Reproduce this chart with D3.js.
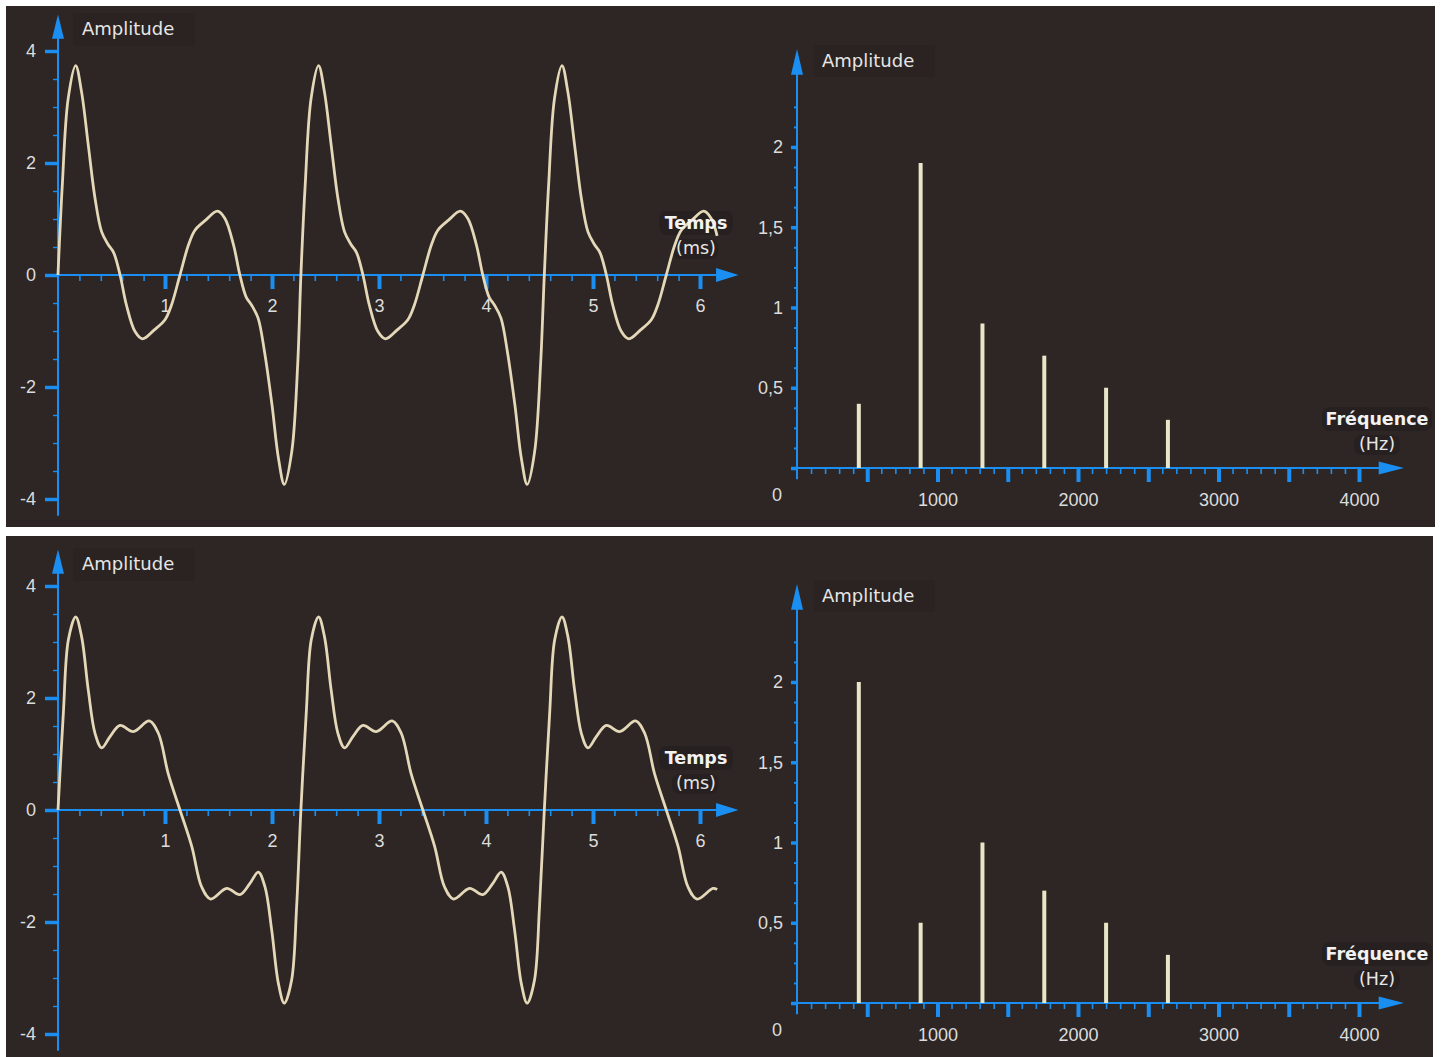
<!DOCTYPE html>
<html>
<head>
<meta charset="utf-8">
<script src="https://cdn.jsdelivr.net/npm/d3@7"></script>
<style>
  html, body { margin: 0; padding: 0; background: #ffffff; }
  svg { display: block; }
</style>
</head>
<body>
<svg id="chart" width="1444" height="1057"></svg>
<script>
// ---------------- DATA ----------------
// Time signals: [time (ms), amplitude]
const signalTop = [
  [0,0],[0.04,1.6],[0.095,3.15],[0.165,3.74],[0.22,3.27],[0.283,2.32],[0.346,1.37],[0.408,0.77],[0.47,0.54],[0.52,0.4],[0.58,0],[0.64,-0.54],[0.72,-1.01],[0.79,-1.14],[0.9,-0.98],[1.0,-0.8],[1.06,-0.54],[1.14,0],[1.22,0.54],[1.28,0.8],[1.38,0.98],[1.49,1.14],[1.56,1.01],[1.64,0.54],[1.7,0],[1.76,-0.4],[1.81,-0.54],[1.87,-0.77],[1.93,-1.37],[2.0,-2.32],[2.06,-3.27],[2.115,-3.74],[2.185,-3.15],[2.24,-1.6],
  [2.27,0],[2.31,1.6],[2.365,3.15],[2.435,3.74],[2.49,3.27],[2.553,2.32],[2.616,1.37],[2.678,0.77],[2.74,0.54],[2.79,0.4],[2.85,0],[2.91,-0.54],[2.99,-1.01],[3.06,-1.14],[3.17,-0.98],[3.27,-0.8],[3.33,-0.54],[3.41,0],[3.49,0.54],[3.55,0.8],[3.65,0.98],[3.76,1.14],[3.83,1.01],[3.91,0.54],[3.97,0],[4.03,-0.4],[4.08,-0.54],[4.14,-0.77],[4.2,-1.37],[4.27,-2.32],[4.33,-3.27],[4.385,-3.74],[4.455,-3.15],[4.51,-1.6],
  [4.545,0],[4.585,1.6],[4.64,3.15],[4.71,3.74],[4.765,3.27],[4.828,2.32],[4.891,1.37],[4.953,0.77],[5.015,0.54],[5.065,0.4],[5.125,0],[5.185,-0.54],[5.265,-1.01],[5.335,-1.14],[5.445,-0.98],[5.545,-0.8],[5.605,-0.54],[5.685,0],[5.765,0.54],[5.825,0.8],[5.925,0.98],[6.035,1.14],[6.105,1.01],[6.16,0.7]
];
const signalBottom = [
  [0,0],[0.05,1.73],[0.097,3.04],[0.165,3.45],[0.22,3.1],[0.283,2.14],[0.346,1.37],[0.408,1.11],[0.486,1.31],[0.58,1.51],[0.704,1.4],[0.853,1.59],[0.938,1.37],[1.03,0.65],[1.14,0],[1.25,-0.65],[1.342,-1.37],[1.427,-1.59],[1.576,-1.4],[1.7,-1.51],[1.794,-1.31],[1.872,-1.11],[1.934,-1.37],[1.997,-2.14],[2.06,-3.1],[2.115,-3.45],[2.183,-3.04],[2.23,-1.73],
  [2.27,0],[2.32,1.73],[2.367,3.04],[2.435,3.45],[2.49,3.1],[2.553,2.14],[2.616,1.37],[2.678,1.11],[2.756,1.31],[2.85,1.51],[2.974,1.4],[3.123,1.59],[3.208,1.37],[3.3,0.65],[3.41,0],[3.52,-0.65],[3.612,-1.37],[3.697,-1.59],[3.846,-1.4],[3.97,-1.51],[4.064,-1.31],[4.142,-1.11],[4.204,-1.37],[4.267,-2.14],[4.33,-3.1],[4.385,-3.45],[4.453,-3.04],[4.5,-1.73],
  [4.545,0],[4.595,1.73],[4.642,3.04],[4.71,3.45],[4.765,3.1],[4.828,2.14],[4.891,1.37],[4.953,1.11],[5.031,1.31],[5.125,1.51],[5.249,1.4],[5.398,1.59],[5.483,1.37],[5.575,0.65],[5.685,0],[5.795,-0.65],[5.887,-1.37],[5.972,-1.59],[6.121,-1.4],[6.16,-1.42]
];
// Spectrum
const harmonicsHz = [440, 880, 1320, 1760, 2200, 2640];
const spectrumTop = [0.4, 1.9, 0.9, 0.7, 0.5, 0.3];
const spectrumBottom = [2.0, 0.5, 1.0, 0.7, 0.5, 0.3];
// Ticks
const timeTickLabels = [1, 2, 3, 4, 5, 6];
const timeAmpTicks = [-4, -2, 0, 2, 4];
const freqTickLabels = [1000, 2000, 3000, 4000];
const freqMajorTicks = [500, 1000, 1500, 2000, 2500, 3000, 3500, 4000];
const specAmpTicks = [0.5, 1, 1.5, 2];
const labels = { amp: "Amplitude", time: "Temps", timeUnit: "(ms)", freq: "Fréquence", freqUnit: "(Hz)" };

// ---------------- STYLE ----------------
const BG = "#2d2624";
const BLUE = "#1b8ef2";
const CURVE = "#e4d8b8";
const BAR = "#e8e6c8";
const TXT = "#dcdcdc";
const LABEL_FONT = "DejaVu Sans, sans-serif";
const TICK_FONT = "Liberation Sans, Arial, sans-serif";

const svg = d3.select("#chart");
svg.append("rect").attr("width", 1444).attr("height", 1057).attr("fill", "#ffffff");

function fmtComma(d) { return String(d).replace(".", ","); }

function drawPanel(offsetY, rectTop, panelH, panelW, signal, spectrum) {
  svg.append("rect").attr("x", 6).attr("y", rectTop).attr("width", panelW).attr("height", panelH).attr("fill", BG);
  const g = svg.append("g").attr("transform", `translate(0,${offsetY})`);

  // ---------- Left: time chart ----------
  const xT = d3.scaleLinear().domain([0, 6]).range([58, 700]);
  const yT = d3.scaleLinear().domain([-4, 4]).range([269 + 224, 269 - 224]);
  const L = g.append("g");

  // label backdrops (behind curve)
  L.append("rect").attr("x", 73).attr("y", 7).attr("width", 122).attr("height", 33).attr("fill", "#2a2321");
  L.append("rect").attr("x", 659).attr("y", 205).attr("width", 74).attr("height", 24).attr("rx", 8).attr("fill", "#262020");
  L.append("rect").attr("x", 672).attr("y", 233).attr("width", 46).attr("height", 20).attr("rx", 8).attr("fill", "#262020");

  // minor x ticks
  const minorT = d3.range(1, 31).map(i => i / 5).filter(v => Math.abs(v - Math.round(v)) > 1e-6);
  L.append("g").attr("transform", `translate(0,${yT(0)})`)
    .call(d3.axisBottom(xT).tickValues(minorT).tickSize(6).tickFormat(""))
    .call(a => a.select(".domain").remove())
    .call(a => a.selectAll("line").attr("stroke", BLUE).attr("stroke-width", 1.6));
  // major x ticks
  L.append("g").attr("transform", `translate(0,${yT(0)})`)
    .call(d3.axisBottom(xT).tickValues(timeTickLabels).tickSize(14).tickPadding(10).tickFormat(d => String(d)))
    .call(a => a.select(".domain").remove())
    .call(a => a.selectAll("line").attr("stroke", BLUE).attr("stroke-width", 4))
    .call(a => a.selectAll("text").attr("fill", TXT).attr("font-family", TICK_FONT).attr("font-size", 18));
  // minor y ticks
  const minorA = d3.range(-8, 9).map(i => i / 2).filter(v => v % 2 !== 0);
  L.append("g").attr("transform", `translate(${xT(0)},0)`)
    .call(d3.axisLeft(yT).tickValues(minorA).tickSize(5).tickFormat(""))
    .call(a => a.select(".domain").remove())
    .call(a => a.selectAll("line").attr("stroke", BLUE).attr("stroke-width", 1.4));
  // major y ticks
  L.append("g").attr("transform", `translate(${xT(0)},0)`)
    .call(d3.axisLeft(yT).tickValues(timeAmpTicks).tickSize(13).tickPadding(9).tickFormat(d => String(d)))
    .call(a => a.select(".domain").remove())
    .call(a => a.selectAll("line").attr("stroke", BLUE).attr("stroke-width", 3.5))
    .call(a => a.selectAll("text").attr("fill", TXT).attr("font-family", TICK_FONT).attr("font-size", 18));

  // axis lines + arrows
  L.append("line").attr("x1", xT(0)).attr("x2", xT(6.2)).attr("y1", yT(0)).attr("y2", yT(0))
    .attr("stroke", BLUE).attr("stroke-width", 2);
  L.append("path").attr("d", `M${xT(6.15)},${yT(0) - 7} L${xT(6.36)},${yT(0)} L${xT(6.15)},${yT(0) + 7} Z`).attr("fill", BLUE);
  L.append("line").attr("x1", xT(0)).attr("x2", xT(0)).attr("y1", yT(-4.3)).attr("y2", yT(4.3))
    .attr("stroke", BLUE).attr("stroke-width", 2);
  L.append("path").attr("d", `M${xT(0) - 6},${yT(4.22)} L${xT(0)},${yT(4.65)} L${xT(0) + 6},${yT(4.22)} Z`).attr("fill", BLUE);

  // curve
  L.append("path").datum(signal)
    .attr("d", d3.line().x(d => xT(d[0])).y(d => yT(d[1])).curve(d3.curveCatmullRom.alpha(0.5)))
    .attr("fill", "none").attr("stroke", CURVE).attr("stroke-width", 2.8).attr("stroke-linejoin", "round");

  // labels
  L.append("text").attr("x", 82).attr("y", 29).text(labels.amp)
    .attr("fill", "#e6e6e6").attr("font-family", LABEL_FONT).attr("font-size", 18);
  L.append("text").attr("x", 696).attr("y", 223).attr("text-anchor", "middle").text(labels.time)
    .attr("fill", "#f2f2f2").attr("font-family", LABEL_FONT).attr("font-weight", "bold").attr("font-size", 17.5);
  L.append("text").attr("x", 696).attr("y", 248).attr("text-anchor", "middle").text(labels.timeUnit)
    .attr("fill", "#e6e6e6").attr("font-family", LABEL_FONT).attr("font-size", 17.5);

  // ---------- Right: spectrum ----------
  const xF = d3.scaleLinear().domain([0, 4000]).range([797, 1359]);
  const yF = d3.scaleLinear().domain([0, 2]).range([462, 141]);
  const R = g.append("g");

  const minorF = d3.range(1, 41).map(i => i * 100).filter(v => v % 500 !== 0);
  R.append("g").attr("transform", `translate(0,${yF(0)})`)
    .call(d3.axisBottom(xF).tickValues(minorF).tickSize(6).tickFormat(""))
    .call(a => a.select(".domain").remove())
    .call(a => a.selectAll("line").attr("stroke", BLUE).attr("stroke-width", 1.6));
  R.append("g").attr("transform", `translate(0,${yF(0)})`)
    .call(d3.axisBottom(xF).tickValues(freqMajorTicks).tickSize(14).tickFormat(""))
    .call(a => a.select(".domain").remove())
    .call(a => a.selectAll("line").attr("stroke", BLUE).attr("stroke-width", 4));
  R.append("g").attr("transform", `translate(0,${yF(0)})`)
    .call(d3.axisBottom(xF).tickValues(freqTickLabels).tickSize(0).tickPadding(25).tickFormat(d => String(d)))
    .call(a => a.select(".domain").remove())
    .call(a => a.selectAll("text").attr("fill", TXT).attr("font-family", TICK_FONT).attr("font-size", 18));

  const minorS = d3.range(1, 19).map(i => i * 0.125).filter(v => Math.abs(v * 2 - Math.round(v * 2)) > 1e-6);
  R.append("g").attr("transform", `translate(${xF(0)},0)`)
    .call(d3.axisLeft(yF).tickValues(minorS).tickSize(3).tickFormat(""))
    .call(a => a.select(".domain").remove())
    .call(a => a.selectAll("line").attr("stroke", BLUE).attr("stroke-width", 2));
  R.append("g").attr("transform", `translate(${xF(0)},0)`)
    .call(d3.axisLeft(yF).tickValues([0].concat(specAmpTicks)).tickSize(6).tickPadding(8)
      .tickFormat(d => d === 0 ? "" : fmtComma(d)))
    .call(a => a.select(".domain").remove())
    .call(a => a.selectAll("line").attr("stroke", BLUE).attr("stroke-width", 3.5))
    .call(a => a.selectAll("text").attr("fill", TXT).attr("font-family", TICK_FONT).attr("font-size", 18));
  R.append("text").attr("x", xF(0) - 20).attr("y", yF(0) + 33).attr("text-anchor", "middle").text("0")
    .attr("fill", TXT).attr("font-family", TICK_FONT).attr("font-size", 18);

  R.append("line").attr("x1", xF(0)).attr("x2", xF(4200)).attr("y1", yF(0)).attr("y2", yF(0))
    .attr("stroke", BLUE).attr("stroke-width", 2);
  R.append("path").attr("d", `M${xF(4140)},${yF(0) - 6.5} L${xF(4320)},${yF(0)} L${xF(4140)},${yF(0) + 6.5} Z`).attr("fill", BLUE);
  R.append("line").attr("x1", xF(0)).attr("x2", xF(0)).attr("y1", yF(-0.07)).attr("y2", yF(2.5))
    .attr("stroke", BLUE).attr("stroke-width", 2);
  R.append("path").attr("d", `M${xF(0) - 6},${yF(2.45)} L${xF(0)},${yF(2.61)} L${xF(0) + 6},${yF(2.45)} Z`).attr("fill", BLUE);

  R.selectAll("line.bar").data(harmonicsHz.map((f, i) => ({ f, v: spectrum[i] })))
    .enter().append("line").attr("class", "bar")
    .attr("x1", d => xF(d.f)).attr("x2", d => xF(d.f))
    .attr("y1", yF(0)).attr("y2", d => yF(d.v))
    .attr("stroke", BAR).attr("stroke-width", 4);

  R.append("rect").attr("x", 814).attr("y", 39).attr("width", 121).attr("height", 32).attr("fill", "#2a2321");
  R.append("text").attr("x", 822).attr("y", 61).text(labels.amp)
    .attr("fill", "#e6e6e6").attr("font-family", LABEL_FONT).attr("font-size", 18);
  R.append("rect").attr("x", 1322).attr("y", 401).attr("width", 110).attr("height", 24).attr("rx", 8).attr("fill", "#262020");
  R.append("rect").attr("x", 1354).attr("y", 429).attr("width", 46).attr("height", 20).attr("rx", 8).attr("fill", "#262020");
  R.append("text").attr("x", 1377).attr("y", 419).attr("text-anchor", "middle").text(labels.freq)
    .attr("fill", "#f2f2f2").attr("font-family", LABEL_FONT).attr("font-weight", "bold").attr("font-size", 17.5);
  R.append("text").attr("x", 1377).attr("y", 444).attr("text-anchor", "middle").text(labels.freqUnit)
    .attr("fill", "#e6e6e6").attr("font-family", LABEL_FONT).attr("font-size", 17.5);
}

drawPanel(6, 6, 521, 1429, signalTop, spectrumTop);
drawPanel(541, 536, 521, 1427, signalBottom, spectrumBottom);
</script>
</body>
</html>
